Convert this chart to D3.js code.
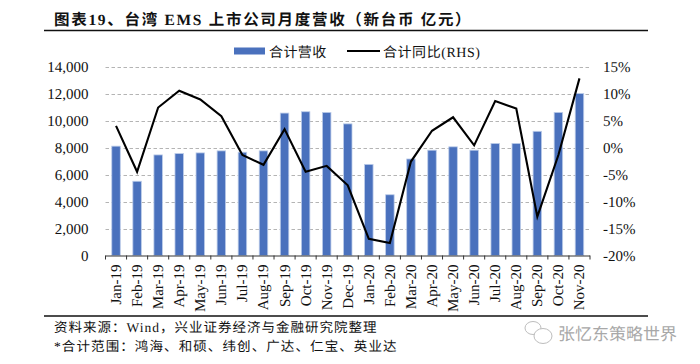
<!DOCTYPE html>
<html>
<head>
<meta charset="utf-8">
<script src="https://cdn.jsdelivr.net/npm/d3@7"></script>
<style>
  html, body { margin: 0; padding: 0; background: #fff; }
  text { font-family: "Liberation Serif", "Noto Sans CJK SC", serif; fill: #111; text-rendering: geometricPrecision; }
</style>
</head>
<body>
<div id="chart"></div>
<script>
// monthly revenue (bars, left axis) and yoy change (line, right axis)
const months = ["Jan-19","Feb-19","Mar-19","Apr-19","May-19","Jun-19","Jul-19","Aug-19","Sep-19","Oct-19","Nov-19","Dec-19",
  "Jan-20","Feb-20","Mar-20","Apr-20","May-20","Jun-20","Jul-20","Aug-20","Sep-20","Oct-20","Nov-20"];
const revenue = [8100,5500,7450,7550,7600,7750,7650,7750,10550,10650,10600,9750,6750,4500,7150,7800,8050,7800,8300,8300,9200,10600,12000];
const yoy = [4.0,-4.5,7.4,10.5,8.9,5.8,-1.4,-3.2,3.4,-4.5,-3.4,-7.0,-16.9,-17.7,-2.6,3.1,5.6,0.4,8.6,7.2,-12.8,-1.4,12.8];
const leftTicks = [0,2000,4000,6000,8000,10000,12000,14000];
const rightTicks = [-20,-15,-10,-5,0,5,10,15];

const W = 700, H = 364;
const plot = { left: 105.5, right: 590, top: 66.5, bottom: 255.5 };

const svg = d3.select("#chart").append("svg").attr("width", W).attr("height", H).style("display", "block");

const x = d3.scaleBand().domain(months).range([plot.left, plot.right]);
const yL = d3.scaleLinear().domain([0, 14000]).range([plot.bottom, plot.top]);
const yR = d3.scaleLinear().domain([-20, 15]).range([plot.bottom, plot.top]);

// grid
svg.append("g").selectAll("line").data(leftTicks.slice(1)).enter().append("line")
  .attr("x1", plot.left).attr("x2", plot.right)
  .attr("y1", d => Math.round(yL(d)) + 0.5).attr("y2", d => Math.round(yL(d)) + 0.5)
  .attr("stroke", "#b4b4b4").attr("stroke-dasharray", "3.5,2.5");

// bars
const barW = 8.5;
svg.append("g").selectAll("rect").data(months).enter().append("rect")
  .attr("x", d => x(d) + (x.bandwidth() - barW) / 2)
  .attr("width", barW)
  .attr("y", (d, i) => yL(revenue[i]))
  .attr("height", (d, i) => plot.bottom - yL(revenue[i]))
  .attr("fill", "#4a71bd").attr("stroke", "#bccce9").attr("stroke-width", 0.8);

// left axis
const axL = svg.append("g").attr("transform", `translate(${plot.left - 17},0)`)
  .call(d3.axisLeft(yL).tickValues(leftTicks).tickSize(0).tickPadding(0).tickFormat(d3.format(",")));
axL.select(".domain").remove();
axL.selectAll("text").style("font-size", "15px");

// right axis
const axR = svg.append("g").attr("transform", `translate(${plot.right + 13},0)`)
  .call(d3.axisRight(yR).tickValues(rightTicks).tickSize(0).tickPadding(0).tickFormat(d => d + "%"));
axR.select(".domain").remove();
axR.selectAll("text").style("font-size", "15px");

// bottom axis, ticks sit on the band edges
const base = svg.append("g");
base.append("line").attr("x1", plot.left).attr("x2", plot.right).attr("y1", plot.bottom + 0.5).attr("y2", plot.bottom + 0.5)
  .attr("stroke", "#333");
base.selectAll(".t").data(months.concat("end")).enter().append("line")
  .attr("x1", (d, i) => i < months.length ? x(d) : plot.right)
  .attr("x2", (d, i) => i < months.length ? x(d) : plot.right)
  .attr("y1", plot.bottom).attr("y2", plot.bottom + 4).attr("stroke", "#333");
base.selectAll("text").data(months).enter().append("text")
  .attr("transform", d => `translate(${x(d) + x.bandwidth() / 2 + 5},${plot.bottom + 9}) rotate(-90)`)
  .attr("text-anchor", "end").style("font-size", "15px").text(d => d);

// line
const line = d3.line().x((d, i) => x(months[i]) + x.bandwidth() / 2).y(d => yR(d));
svg.append("path").datum(yoy).attr("d", line).attr("fill", "none").attr("stroke", "#000")
  .attr("stroke-width", 2.1).attr("stroke-linejoin", "miter");

// legend
svg.append("rect").attr("x", 234).attr("y", 47.5).attr("width", 31).attr("height", 7).attr("fill", "#4a71bd");
svg.append("text").attr("x", 269).attr("y", 57).style("font-size", "14px").style("letter-spacing", "0.4px").text("合计营收");
svg.append("line").attr("x1", 347).attr("x2", 380).attr("y1", 51).attr("y2", 51).attr("stroke", "#000").attr("stroke-width", 2.1);
svg.append("text").attr("x", 383).attr("y", 57).style("font-size", "14px").style("letter-spacing", "0.55px").text("合计同比(RHS)");

// title and rules
svg.append("text").attr("x", 54).attr("y", 25).style("font-size", "15.5px").style("font-weight", "bold")
  .style("letter-spacing", "1.7px").text("图表19、台湾 EMS 上市公司月度营收（新台币 亿元）");
[30.5, 316].forEach(yy => svg.append("line").attr("x1", 44).attr("x2", 648).attr("y1", yy).attr("y2", yy)
  .attr("stroke", "#111").attr("stroke-width", 1.3));

// notes
svg.append("text").attr("x", 54).attr("y", 332).style("font-size", "13.5px").style("letter-spacing", "1px")
  .text("资料来源：Wind，兴业证券经济与金融研究院整理");
svg.append("text").attr("x", 54).attr("y", 351).style("font-size", "13.5px").style("letter-spacing", "1.1px")
  .text("*合计范围：鸿海、和硕、纬创、广达、仁宝、英业达");

// watermark
const wm = svg.append("g").attr("fill", "#fff").attr("stroke", "#bdbdbd").attr("stroke-width", 1);
wm.append("ellipse").attr("cx", 533).attr("cy", 328).attr("rx", 8).attr("ry", 6.5);
wm.append("ellipse").attr("cx", 543).attr("cy", 336).attr("rx", 9).attr("ry", 7.5);
svg.append("text").attr("x", 558).attr("y", 340).style("font-size", "17px").style("fill", "#a8a8a8")
  .style("font-family", "'Noto Sans CJK SC'").text("张忆东策略世界");
</script>
</body>
</html>
